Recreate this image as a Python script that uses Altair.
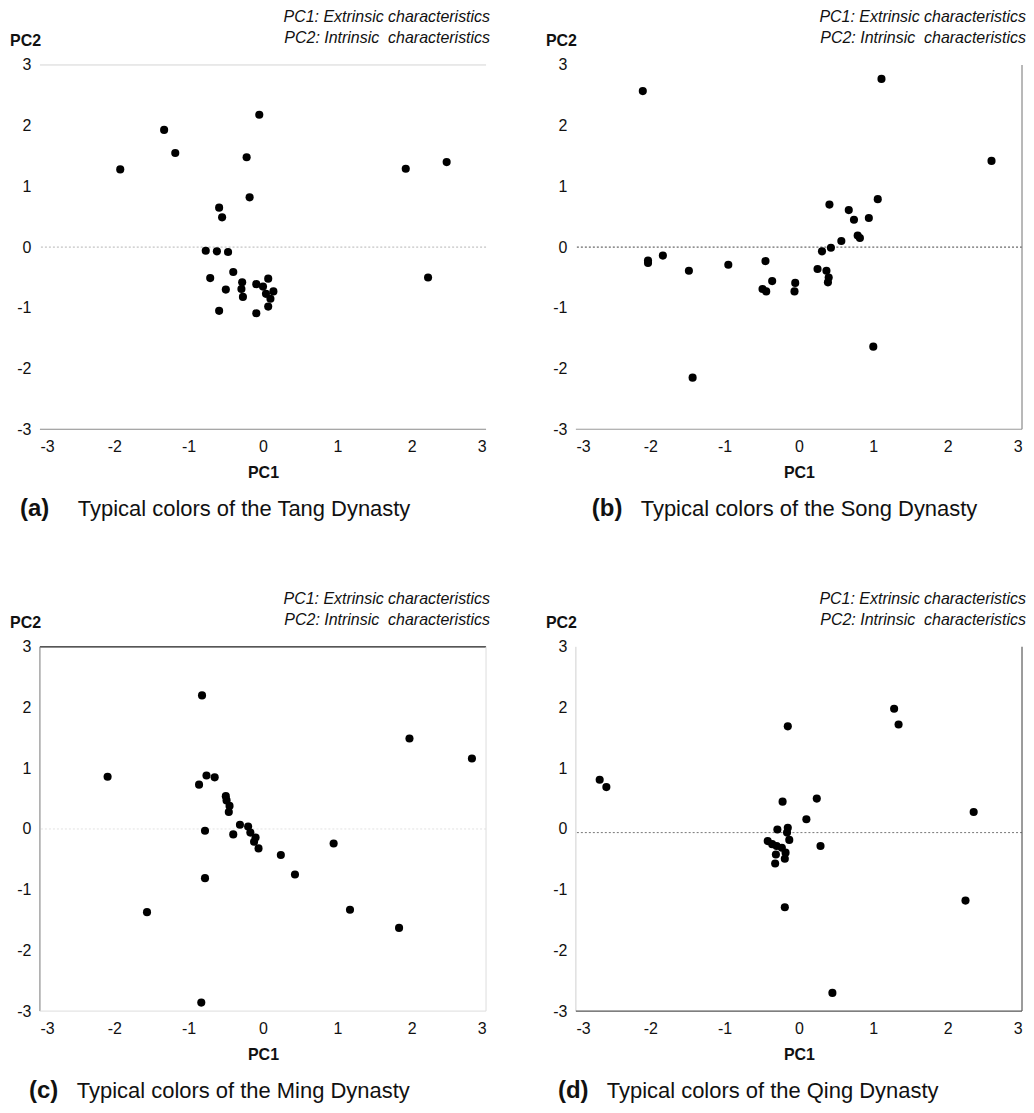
import altair as alt
import pandas as pd

# ---------------- data ----------------
tang_pc1 = [-0.05, -1.33, -1.18, -1.92, -0.22, -0.18, 1.92, 2.47, 2.22, -0.59, -0.55, -0.77, -0.62,
            -0.47, -0.40, -0.71, -0.50, -0.28, -0.29, -0.27, -0.59, -0.09, -0.09, 0.07, 0.00, 0.14,
            0.04, 0.10, 0.07]
tang_pc2 = [2.18, 1.93, 1.55, 1.28, 1.48, 0.82, 1.29, 1.40, -0.50, 0.65, 0.49, -0.06, -0.07,
            -0.08, -0.41, -0.51, -0.70, -0.58, -0.69, -0.82, -1.05, -1.09, -0.61, -0.52, -0.65, -0.73,
            -0.77, -0.85, -0.98]

song_pc1 = [-2.10, 1.11, 2.59, 1.06, 0.41, 0.67, 0.74, 0.94, 0.79, 0.82, 0.57, 0.43, 0.31, 0.25,
            0.37, 0.40, 0.39, -0.05, -0.06, -0.36, -0.45, -0.49, -0.44, -0.95, -1.48, -1.83, -2.03,
            -2.03, -1.43, 1.00]
song_pc2 = [2.57, 2.77, 1.42, 0.79, 0.70, 0.61, 0.45, 0.48, 0.19, 0.15, 0.10, -0.01, -0.07, -0.36,
            -0.39, -0.50, -0.58, -0.59, -0.73, -0.56, -0.23, -0.69, -0.73, -0.29, -0.39, -0.14, -0.22,
            -0.26, -2.15, -1.64]

ming_pc1 = [-0.82, -2.09, 1.97, 2.81, -0.86, -0.76, -0.65, -0.50, -0.49, -0.45, -0.46, -0.78, -0.40,
            -0.31, -0.20, -0.17, -0.10, -0.12, -0.06, 0.24, 0.43, 0.95, -0.78, -1.56, 1.17, 1.83, -0.83]
ming_pc2 = [2.20, 0.86, 1.49, 1.16, 0.73, 0.88, 0.85, 0.54, 0.47, 0.38, 0.28, -0.03, -0.09,
            0.07, 0.04, -0.06, -0.14, -0.21, -0.32, -0.43, -0.75, -0.24, -0.81, -1.37, -1.33, -1.63, -2.86]

qing_pc1 = [-2.68, -2.59, -0.15, 1.28, 1.34, 2.35, 2.24, -0.22, 0.24, 0.10, -0.19, 0.45, 0.29,
            -0.29, -0.15, -0.16, -0.13, -0.42, -0.36, -0.30, -0.23, -0.18, -0.31, -0.19, -0.32]
qing_pc2 = [0.81, 0.69, 1.69, 1.98, 1.72, 0.28, -1.18, 0.45, 0.50, 0.16, -1.29, -2.70, -0.28,
            -0.01, 0.02, -0.06, -0.18, -0.20, -0.25, -0.28, -0.31, -0.39, -0.42, -0.49, -0.57]

tick_values = [-3, -2, -1, 0, 1, 2, 3]
zero_lines = [0.0, 0.0, 0.0, -0.06]
letters = ["(a)", "(b)", "(c)", "(d)"]
captions = ["Typical colors of the Tang Dynasty", "Typical colors of the Song Dynasty",
            "Typical colors of the Ming Dynasty", "Typical colors of the Qing Dynasty"]
note1 = "PC1: Extrinsic characteristics"
note2 = "PC2: Intrinsic\u00a0 characteristics"

# ---------------- styling ----------------
FONT = "Liberation Sans"
W, H = 447, 365
TXT = "#111111"

xs = alt.Scale(domain=[-3, 3], nice=False, zero=False)
ys = alt.Scale(domain=[-3, 3], nice=False, zero=False)
label_expr = "'' + datum.value"
x_axis = alt.Axis(values=tick_values, title="PC1", labelExpr=label_expr, labelPadding=9,
                  titleFontWeight="bold", titleFontSize=16, titlePadding=10, titleColor=TXT,
                  titleFont=FONT)
y_axis = alt.Axis(values=tick_values, title=None, labelExpr=label_expr, labelPadding=9)

dummy = pd.DataFrame({"k": [0]})


def side_rule(side, color, width=1.0):
    base = alt.Chart(dummy).mark_rule(color=color, strokeWidth=width)
    if side == "top":
        return base.encode(x=alt.value(0), x2=alt.value(W), y=alt.value(0))
    if side == "bottom":
        return base.encode(x=alt.value(0), x2=alt.value(W), y=alt.value(H))
    if side == "left":
        return base.encode(x=alt.value(0), y=alt.value(0), y2=alt.value(H))
    return base.encode(x=alt.value(W), y=alt.value(0), y2=alt.value(H))


def text_at(txt, x, y, size=16, weight="normal", style="normal", align="left", baseline="middle"):
    return alt.Chart(dummy).mark_text(
        font=FONT, fontSize=size, fontWeight=weight, fontStyle=style, align=align,
        baseline=baseline, color=TXT
    ).encode(x=alt.value(x), y=alt.value(y), text=alt.value(txt))


def panel(pc1, pc2, zero_y, zero_color, frame, letter, caption, lx, cx, cap_dy):
    df = pd.DataFrame({"PC1": pc1, "PC2": pc2})
    pts = alt.Chart(df).mark_circle(size=66, color="#000000", opacity=1).encode(
        x=alt.X("PC1:Q", scale=xs, axis=x_axis),
        y=alt.Y("PC2:Q", scale=ys, axis=y_axis),
    )
    zero = alt.Chart(pd.DataFrame({"PC2": [zero_y]})).mark_rule(
        color=zero_color, strokeDash=[2, 2], strokeWidth=1
    ).encode(y=alt.Y("PC2:Q", scale=ys, axis=y_axis))
    layers = [zero] + [side_rule(s, c, w) for s, c, w in frame] + [pts]
    base_y = H + cap_dy
    layers += [
        text_at(note1, W + 4, -48, style="italic", align="right"),
        text_at(note2, W + 4, -27, style="italic", align="right"),
        text_at("PC2", -30, -24, weight="bold"),
        text_at(letter, lx, base_y, size=24, weight="bold", baseline="alphabetic"),
        text_at(caption, cx, base_y, size=22, baseline="alphabetic"),
    ]
    return alt.layer(*layers).properties(width=W, height=H)


frames = [
    [("top", "#d4d4d4", 1), ("bottom", "#8a8a8a", 1.2)],
    [("bottom", "#999999", 1), ("right", "#8a8a8a", 1.2)],
    [("top", "#1e1e1e", 1.2), ("left", "#777777", 1), ("right", "#dddddd", 1), ("bottom", "#dddddd", 1)],
    [("left", "#d0d0d0", 1), ("right", "#5a5a5a", 1.2), ("bottom", "#555555", 1.2)],
]
zero_colors = ["#b5b5b5", "#444444", "#e2e2e2", "#777777"]
letter_x = [-20, 16, -11, -18]
caption_x = [38, 65, 37, 31]
caption_dy = [87, 87, 87, 87]

panels = []
series = [(tang_pc1, tang_pc2), (song_pc1, song_pc2), (ming_pc1, ming_pc2), (qing_pc1, qing_pc2)]
for i, (a, b) in enumerate(series):
    panels.append(panel(a, b, zero_lines[i], zero_colors[i], frames[i], letters[i], captions[i],
                        letter_x[i], caption_x[i], caption_dy[i]))

chart = alt.concat(*panels, columns=2).properties(
    spacing={"row": 218, "column": 90},
    bounds="flush",
    padding={"left": 2, "top": 0, "right": 0, "bottom": 0},
).configure_view(stroke=None).configure_axis(
    grid=False, domain=False, ticks=False, tickSize=0,
    labelFont=FONT, labelFontSize=16, labelColor=TXT,
)

chart.save("out.html", embed_options={"renderer": "svg", "actions": False})
